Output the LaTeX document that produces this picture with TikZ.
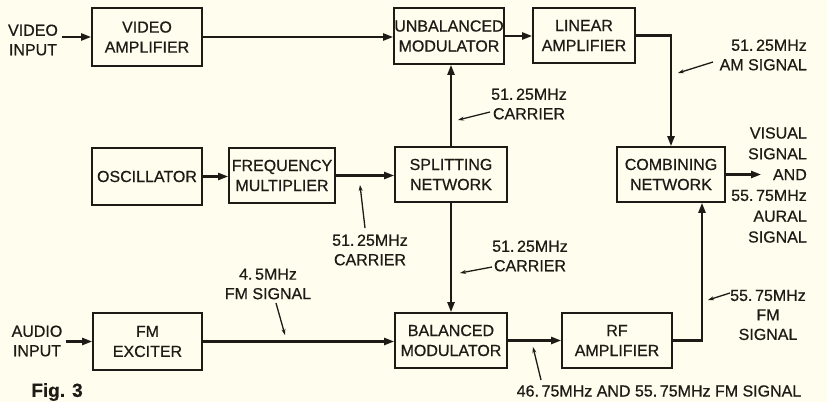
\documentclass[tikz,border=0pt]{standalone}
\usepackage{fontspec}
\setmainfont{Liberation Sans}[FakeBold=0.6]
\usetikzlibrary{arrows.meta}
\definecolor{paper}{HTML}{FFFDEE}
\definecolor{ink}{HTML}{1E1A16}
\begin{document}
\begin{tikzpicture}[x=1pt,y=-1pt,
  blk/.style={draw=ink,line width=1.6pt,fill=paper,inner sep=0pt,align=center,
    font=\fontsize{16}{20}\selectfont,text=ink},
  lbl/.style={inner sep=0pt,align=center,font=\fontsize{16}{19.5}\selectfont,text=ink},
  conn/.style={draw=ink,line width=2.2pt,-{Triangle[length=10pt,width=7pt]}},
  lead/.style={draw=ink,line width=1.3pt,-{Stealth[length=6pt,width=4pt]}}]
\fill[paper] (0,0) rectangle (827,402);
\useasboundingbox (0,0) rectangle (827,402);
% blocks
\node[blk,minimum width=110,minimum height=58] (va) at (147,37) {VIDEO\\AMPLIFIER};
\node[blk,minimum width=110,minimum height=56] (um) at (449,36) {UNBALANCED\\MODULATOR};
\node[blk,minimum width=102,minimum height=55] (la) at (584,35.5) {LINEAR\\AMPLIFIER};
\node[blk,minimum width=110,minimum height=57] (osc) at (147,176.5) {OSCILLATOR};
\node[blk,minimum width=106,minimum height=55] (fmul) at (282,175.5) {FREQUENCY\\MULTIPLIER};
\node[blk,minimum width=112,minimum height=55] (sn) at (451,174.5) {SPLITTING\\NETWORK};
\node[blk,minimum width=108,minimum height=55] (cn) at (671,174.5) {COMBINING\\NETWORK};
\node[blk,minimum width=109,minimum height=57] (fe) at (147.5,341.5) {FM\\EXCITER};
\node[blk,minimum width=112,minimum height=55] (bm) at (451,340.5) {BALANCED\\MODULATOR};
\node[blk,minimum width=110,minimum height=55] (rf) at (617,340.5) {RF\\AMPLIFIER};
% inputs
\node[lbl] (vin) at (33,40) {VIDEO\\INPUT};
\node[lbl] (ain) at (37,341) {AUDIO\\INPUT};
% connectors
\draw[conn] ([xshift=4pt]va.west -| vin.east) -- (va.west);
\draw[conn] ([xshift=3pt]fe.west -| ain.east) -- (fe.west);
\draw[conn] (va.east) -- (va.east -| um.west);
\draw[conn] (um.east) -- (um.east -| la.west);
\draw[conn] (la.east) -| (cn.north);
\draw[conn] (osc.east) -- (osc.east -| fmul.west);
\draw[conn] (fmul.east) -- (fmul.east -| sn.west);
\draw[conn] (sn.north) -- (sn.north |- um.south);
\draw[conn] (sn.south) -- (sn.south |- bm.north);
\draw[conn] (fe.east) -- (fe.east -| bm.west);
\draw[conn] (bm.east) -- (bm.east -| rf.west);
\coordinate (rfup) at (702,0);
\draw[conn] (rf.east) -| (rfup |- cn.south);
\coordinate (out) at (761,0);
\draw[conn] (cn.east) -- (out |- cn.east);
% labels
\node[lbl,align=right,anchor=east,font=\fontsize{16}{20.8}\selectfont] (outtxt) at (807,185)
  {VISUAL\\SIGNAL\\AND\\55.\,75MHz\\AURAL\\SIGNAL};
\node[lbl,align=right,anchor=east] (amtxt) at (807,55) {51.\,25MHz\\AM SIGNAL};
\node[lbl] (c1) at (529,104) {51.\,25MHz\\CARRIER};
\node[lbl] (c2) at (370,250) {51.\,25MHz\\CARRIER};
\node[lbl] (c3) at (530,256) {51.\,25MHz\\CARRIER};
\node[lbl] (fmsig) at (268,284) {4.\,5MHz\\FM SIGNAL};
\node[lbl] (fm55) at (768,315) {55.\,75MHz\\FM\\SIGNAL};
\node[lbl] (bot) at (659,391) {46.\,75MHz AND 55.\,75MHz FM SIGNAL};
\node[inner sep=0pt,font=\bfseries\fontsize{19}{19}\selectfont,text=ink] (fig) at (57,392) {Fig. 3};
% leaders
\coordinate (amA) at (713,62); \coordinate (amB) at (678,73);
\coordinate (c1A) at (490,112); \coordinate (c1B) at (458,120);
\coordinate (c2A) at (365,228); \coordinate (c2B) at (360,185);
\coordinate (c3A) at (492,267); \coordinate (c3B) at (460,273);
\coordinate (fsA) at (276,303); \coordinate (fsB) at (285,335);
\coordinate (f5A) at (730,293); \coordinate (f5B) at (708,300);
\coordinate (btA) at (541,380); \coordinate (btB) at (533,347);
\draw[lead] (amA) -- (amB);
\draw[lead] (c1A) -- (c1B);
\draw[lead] (c2A) -- (c2B);
\draw[lead] (c3A) -- (c3B);
\draw[lead] (fsA) -- (fsB);
\draw[lead] (f5A) -- (f5B);
\draw[lead] (btA) -- (btB);
\end{tikzpicture}
\end{document}
